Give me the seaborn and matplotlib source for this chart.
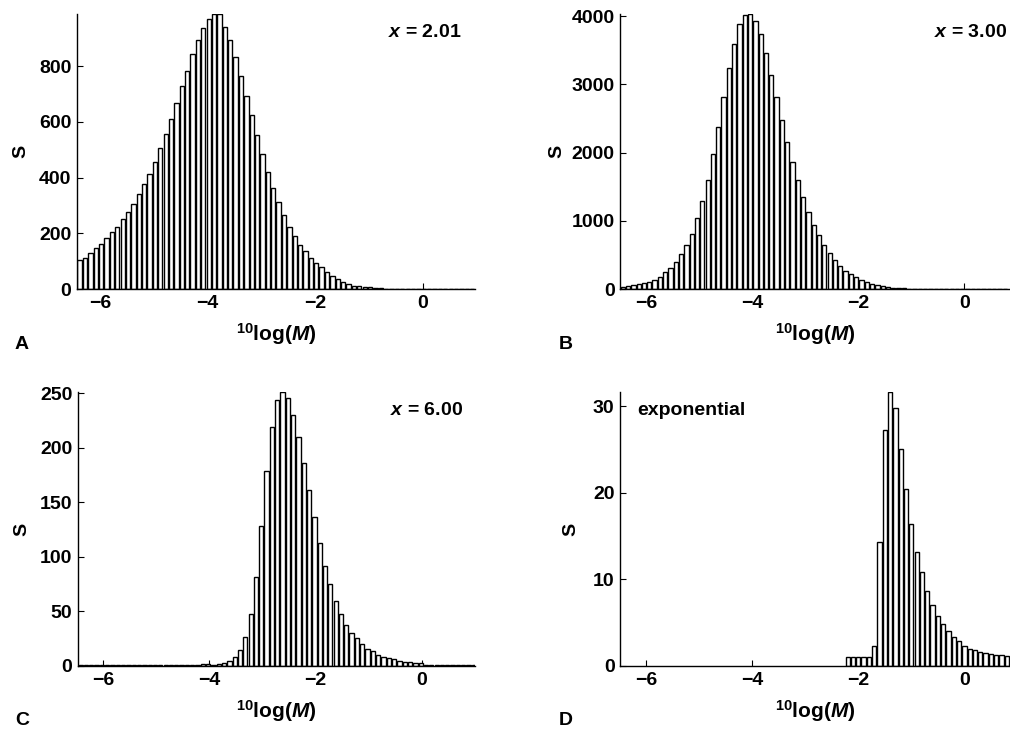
import numpy as np
import matplotlib
matplotlib.use('Agg')
import matplotlib.pyplot as plt
import seaborn as sns

# histogram counts, bins of 0.1 in 10log(M)
bin_width = 0.1

start_a = -6.43
counts_a = [105, 111, 131, 149, 161, 182, 205, 224, 250, 276,
            306, 340, 377, 414, 457, 505, 555, 611, 666, 728,
            782, 842, 893, 935, 967, 986, 986, 941, 893, 833,
            764, 694, 624, 553, 485, 419, 364, 313, 266, 222,
            189, 159, 135, 113, 93, 78, 61, 48, 36, 26,
            19, 13, 11, 8, 7, 5, 4, 2, 2, 2,
            1, 1, 1, 1, 1, 1, 1, 1, 1, 1, 1, 1, 1, 1]

start_b = -6.49
counts_b = [29, 49, 63, 78, 88, 102, 137, 185, 244, 307,
            405, 512, 649, 810, 1039, 1298, 1600, 1976, 2380, 2820,
            3234, 3590, 3883, 4015, 4030, 3932, 3737, 3463, 3137, 2811,
            2478, 2161, 1868, 1600, 1347, 1136, 941, 795, 649, 527,
            429, 346, 273, 224, 171, 127, 98, 78, 59, 39,
            29, 20, 15, 10, 5, 4, 3, 3, 2, 2,
            2, 2, 1, 1, 1, 1, 1, 1, 1, 1, 1, 1, 1]

start_c = -6.47
counts_c = [0.5] * 23 + [
            2, 1.5, 1, 1.5, 3, 5, 8.5, 15, 27, 48,
            82, 128, 179, 219, 244, 251, 246, 230, 210, 186,
            161, 137, 113, 92, 75, 60, 48, 38, 30, 26,
            20, 16, 14, 10, 8.5, 7, 6, 4.3, 3.7, 3.7,
            3, 2.4] + [1.2] * 10

start_d = -2.25
counts_d = [1, 1, 1, 1, 1, 2.35, 14.3, 27.2, 31.6, 29.8,
            25.1, 20.4, 16.35, 13.2, 10.8, 8.7, 7.0, 5.8, 4.8, 4.0,
            3.4, 2.9, 2.35, 2.0, 1.85, 1.6, 1.45, 1.35, 1.25, 1.25, 1.1]

yticks_a = [0, 200, 400, 600, 800]
yticks_b = [0, 1000, 2000, 3000, 4000]
yticks_c = [0, 50, 100, 150, 200, 250]
yticks_d = [0, 10, 20, 30]
xticks = [-6, -4, -2, 0]

sns.set_style('ticks', rc={'text.color': 'black', 'axes.labelcolor': 'black',
                           'xtick.color': 'black', 'ytick.color': 'black',
                           'axes.edgecolor': 'black'})
plt.rcParams['font.family'] = ['Liberation Sans', 'DejaVu Sans']
plt.rcParams['font.weight'] = 'bold'
plt.rcParams['axes.labelweight'] = 'bold'
plt.rcParams['mathtext.fontset'] = 'custom'
plt.rcParams['mathtext.rm'] = 'Liberation Sans:bold'
plt.rcParams['mathtext.it'] = 'Liberation Sans:italic:bold'
plt.rcParams['mathtext.bf'] = 'Liberation Sans:bold'

fig = plt.figure(figsize=(10.1, 7.32), dpi=100)


def draw(rect, start, counts, xlim, yticks, letter, note, note_x, note_ha,
         ylab_x=-0.12):
    ax = fig.add_axes(rect)
    edges = start + bin_width * np.arange(len(counts) + 1)
    centers = edges[:-1] + bin_width / 2
    sns.histplot(x=list(centers), weights=list(counts), bins=list(edges), ax=ax,
                 color='white', edgecolor='black', linewidth=1.0,
                 alpha=1, shrink=0.8)
    ax.set_xlim(*xlim)
    ax.set_ylim(0, max(counts))
    ax.set_xticks(xticks)
    ax.set_yticks(yticks)
    ax.tick_params(direction='in', length=4, width=0.8, labelsize=14, pad=4)
    sns.despine(ax=ax)
    for s in ['left', 'bottom']:
        ax.spines[s].set_linewidth(1.0)
    ax.set_xlabel('$^{10}$log($M$)', fontsize=15, labelpad=7)
    ax.set_ylabel('S', fontsize=14)
    ax.yaxis.set_label_coords(ylab_x, 0.5)
    ax.text(note_x, 0.935, note, transform=ax.transAxes, ha=note_ha,
            va='center', fontsize=14)
    ax.text(-0.158, -0.2, letter, transform=ax.transAxes, ha='left',
            va='center', fontsize=14)
    return ax


draw([0.0762, 0.605, 0.394, 0.3757], start_a, counts_a, (-6.43, 0.97),
     yticks_a, 'A', '$x$ = 2.01', 0.967, 'right')
draw([0.614, 0.605, 0.386, 0.3757], start_b, counts_b, (-6.49, 0.86),
     yticks_b, 'B', '$x$ = 3.00', 0.992, 'right', ylab_x=-0.14)
draw([0.0772, 0.0902, 0.393, 0.374], start_c, counts_c, (-6.47, 1.0),
     yticks_c, 'C', '$x$ = 6.00', 0.97, 'right')
draw([0.614, 0.0902, 0.386, 0.374], start_d, counts_d, (-6.49, 0.86),
     yticks_d, 'D', 'exponential', 0.044, 'left', ylab_x=-0.105)

plt.savefig('out.png', dpi=100)
